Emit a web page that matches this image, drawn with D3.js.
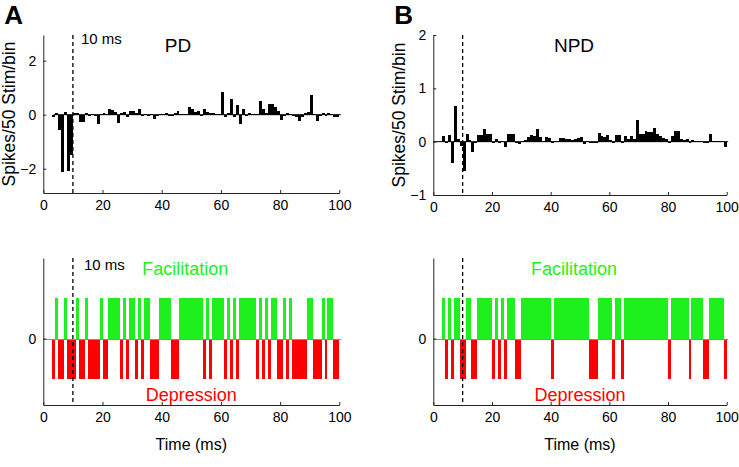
<!DOCTYPE html>
<html><head><meta charset="utf-8">
<script src="https://cdn.jsdelivr.net/npm/d3@7"></script>
<style>
html,body{margin:0;padding:0;background:#fff;}
svg{display:block;font-family:"Liberation Sans",Arial,sans-serif;}
</style></head><body>
<svg id="chart" width="739" height="467"></svg>
<script>
// ---------- data ----------
const binMs = d3.range(1, 101); // 1-ms bins (bin k spans k-1 .. k ms)
const pdValues = [null,null,null,-0.1,0.08,-0.55,-2.13,0.1,-2.1,-1.5,
  0.05,0.05,-0.28,-0.28,0.05,0,0.02,-0.02,-0.33,0.03,
  0.05,0.03,0.22,0.18,0.1,-0.3,0.05,0.1,-0.1,0.15,
  0.12,0.05,0.2,-0.05,0.02,0,0.02,-0.15,0,0.02,
  0.03,0.05,-0.05,-0.05,0.05,0.12,0.02,0.02,0.03,0.27,
  0.2,0.1,0.15,-0.05,0.22,0.1,0.05,0.05,0.03,0.02,
  0.83,-0.1,0.05,0.58,-0.1,0.37,-0.35,0.2,-0.05,0.05,
  0.03,0.02,0.03,0.52,0.2,0.08,0.4,0.38,0.3,0.15,
  -0.2,-0.05,0.05,0.03,-0.05,-0.1,-0.25,-0.1,0.05,0.1,
  0.72,0.02,-0.25,-0.05,0.05,-0.05,0.05,0.03,-0.1,-0.1];
const npdValues = [null,null,null,0.11,-0.03,0.12,-0.4,0.67,0.05,-0.08,
  -0.55,0.15,0.03,-0.2,-0.02,0.12,0.12,0.23,0.15,0.15,
  -0.03,0.05,-0.03,0.02,-0.1,0.15,0.15,0.15,-0.03,-0.05,
  0.02,0.03,0.08,0.13,0.1,0.23,0.08,0.02,0.08,0.06,
  -0.02,0.01,0.02,0.07,0.06,0.05,0.05,0.04,0.05,0.07,
  0.08,-0.05,0.02,-0.03,-0.03,-0.02,0.17,0.1,0.08,0.12,
  0.03,-0.02,0.12,0.12,-0.02,0.11,0.05,0.11,0.05,0.4,
  0.15,0.15,0.2,0.18,0.18,0.25,0.15,0.1,0.07,0.05,
  -0.02,0.1,0.2,0.2,0.05,0.03,0.05,-0.02,0.03,0.02,
  0.02,0.02,-0.02,-0.01,0.15,0.02,0.02,0.02,0.02,-0.1];
// raster: bins showing facilitation / depression
const facilPD = [5,8,12,15,20,23,24,25,26,28,30,31,33,35,36,40,41,42,43,47,48,49,50,51,52,53,54,56,58,59,60,61,63,65,67,68,69,70,71,72,74,76,78,79,82,84,90,91,95,97,98];
const deprPD = [4,6,7,9,10,11,13,14,16,17,18,19,21,22,27,29,32,34,37,38,39,44,45,46,55,57,62,64,66,73,75,77,80,81,83,85,86,87,88,89,92,93,94,96,99,100];
const facilNPD = [4,6,8,9,12,13,16,17,18,19,20,22,24,26,27,28,31,32,33,34,35,36,37,38,39,40,42,43,44,45,46,47,48,49,50,51,52,53,57,58,59,60,61,63,64,66,67,68,69,70,71,72,73,74,75,76,77,78,79,80,82,83,84,85,86,87,89,90,91,92,95,96,97,98,99];
const deprNPD = [5,7,10,11,14,15,21,23,25,29,30,41,54,55,56,62,65,81,88,93,94,100];
const xTicks = [0,20,40,60,80,100];
const yTicksPD = [-2,0,2];
const yTicksNPD = [-1,0,1,2];
const yTicksRaster = [0];
const stimMs = 10;

// ---------- drawing ----------
const svg = d3.select("#chart");
const GREEN = "#1ef01e", RED = "#ff0000", AX = "#262626";
const R = Math.round;

function axes(g, x, y, yTicks) {
  const xa = g.append("g").attr("transform", `translate(0,${y.range()[0]})`)
    .call(d3.axisBottom(x).tickValues(xTicks).tickSizeInner(-3).tickSizeOuter(0).tickPadding(7));
  const ya = g.append("g").attr("transform", `translate(${x.range()[0]},0)`)
    .call(d3.axisLeft(y).tickValues(yTicks).tickSizeInner(-3).tickSizeOuter(0).tickPadding(7));
  [xa, ya].forEach(a => {
    a.selectAll("path").attr("stroke", AX);
    a.selectAll("line").attr("stroke", AX);
    a.selectAll("text").attr("fill", "#000").style("font-size", "14px")
      .style("font-family", "'Liberation Sans',Arial,sans-serif");
  });
  ya.selectAll("text").text(d => d < 0 ? "\u2212" + Math.abs(d) : d);
}

function psth(x0, x1, yDom, yR, values, yTicks, title, titleX, letter, lineStart) {
  const x = d3.scaleLinear().domain([0, 100]).range([x0, x1]);
  const y = d3.scaleLinear().domain(yDom).range(yR);
  const g = svg.append("g");
  const data = binMs.map((k, i) => ({k, v: values[i]})).filter(d => d.v !== null);
  g.selectAll("rect.bar").data(data).join("rect").attr("class", "bar")
    .attr("shape-rendering", "crispEdges")
    .attr("x", d => R(x(d.k - 1))).attr("width", d => R(x(d.k)) - R(x(d.k - 1)))
    .attr("y", d => y(Math.max(0, d.v))).attr("height", d => Math.max(1, Math.abs(y(d.v) - y(0))))
    .attr("fill", "#000");
  g.append("line").attr("x1", x(lineStart)).attr("x2", x(100.5)).attr("y1", y(0)).attr("y2", y(0))
    .attr("stroke", "#000").attr("stroke-width", 1);
  g.append("line").attr("x1", x(stimMs)).attr("x2", x(stimMs)).attr("y1", yR[1]).attr("y2", yR[0])
    .attr("stroke", "#000").attr("stroke-width", 1.3).attr("stroke-dasharray", "4,3");
  axes(g, x, y, yTicks);
  g.append("text").attr("x", titleX).attr("y", 52).attr("text-anchor", "middle")
    .style("font-size", "19px").text(title);
  g.append("text").attr("transform", `translate(${x0 - 28},${(yR[0] + yR[1]) / 2}) rotate(-90)`)
    .attr("text-anchor", "middle").style("font-size", "17.5px").text("Spikes/50 Stim/bin");
  g.append("text").attr("x", x0 - 39).attr("y", 24).style("font-size", "26px").style("font-weight", "bold").text(letter);
  return x;
}

function raster(x0, x1, facil, depr, showMs) {
  const x = d3.scaleLinear().domain([0, 100]).range([x0, x1]);
  const y = d3.scaleLinear().domain([-1.65, 2.0]).range([405, 258]);
  const g = svg.append("g");
  g.selectAll("rect.f").data(facil).join("rect").attr("class", "f")
    .attr("shape-rendering", "crispEdges")
    .attr("x", k => R(x(k - 1))).attr("width", k => R(x(k)) - R(x(k - 1)))
    .attr("y", R(y(1))).attr("height", R(y(0)) - R(y(1))).attr("fill", GREEN);
  g.selectAll("rect.d").data(depr).join("rect").attr("class", "d")
    .attr("shape-rendering", "crispEdges")
    .attr("x", k => R(x(k - 1))).attr("width", k => R(x(k)) - R(x(k - 1)))
    .attr("y", R(y(0))).attr("height", R(y(-1)) - R(y(0))).attr("fill", RED);
  g.append("line").attr("x1", x0).attr("x2", x(100.5)).attr("y1", R(y(0)) + 0.5).attr("y2", R(y(0)) + 0.5)
    .attr("stroke", "#f06a3c").attr("stroke-width", 1);
  g.append("line").attr("x1", x(stimMs)).attr("x2", x(stimMs)).attr("y1", 258).attr("y2", 405)
    .attr("stroke", "#000").attr("stroke-width", 1.3).attr("stroke-dasharray", "4,3");
  axes(g, x, y, yTicksRaster);
  if (showMs) g.append("text").attr("x", x(stimMs) + 11).attr("y", 270).style("font-size", "15px").text("10 ms");
  g.append("text").attr("x", x(48)).attr("y", 275).attr("text-anchor", "middle")
    .style("font-size", "18px").attr("fill", GREEN).text("Facilitation");
  g.append("text").attr("x", x(50)).attr("y", y(-1.4) + 6).attr("text-anchor", "middle")
    .style("font-size", "18px").attr("fill", RED).text("Depression");
  g.append("text").attr("x", (x0 + x1) / 2).attr("y", 450).attr("text-anchor", "middle")
    .style("font-size", "16px").text("Time (ms)");
}

const xa = psth(43.3, 339.3, [-2.9, 2.95], [193, 35], pdValues, yTicksPD, "PD", 178, "A", 3.5);
svg.append("text").attr("x", xa(stimMs) + 8).attr("y", 44).style("font-size", "15px").text("10 ms");
psth(433.3, 726.7, [-1, 2], [195, 35], npdValues, yTicksNPD, "NPD", 574, "B", 0);
raster(43.3, 339.3, facilPD, deprPD, true);
raster(433.3, 726.7, facilNPD, deprNPD, false);
</script>
</body></html>
